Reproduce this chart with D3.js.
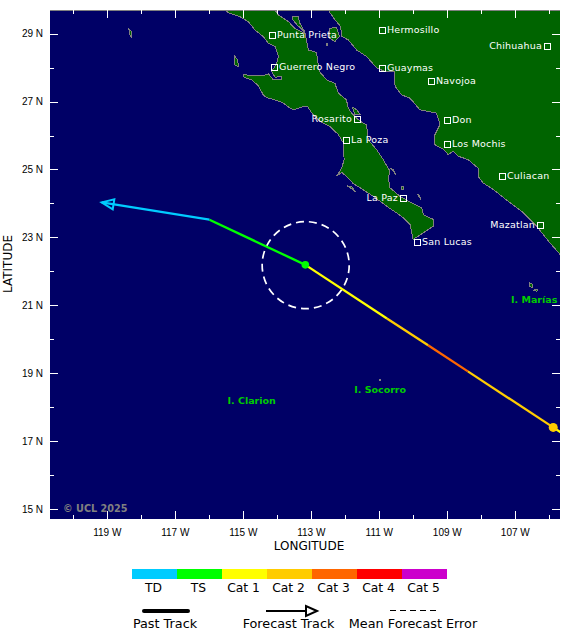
<!DOCTYPE html>
<html>
<head>
<meta charset="utf-8">
<script src="https://cdnjs.cloudflare.com/ajax/libs/d3/7.8.5/d3.min.js"></script>
<style>
  html, body { margin: 0; padding: 0; background: #fff; }
  svg { display: block; font-family: "DejaVu Sans", sans-serif; }
  .tick text { fill: #000; font-size: 10px; }
  .tick line { stroke: #fff; shape-rendering: crispEdges; }
  .domain { display: none; }
</style>
</head>
<body>
<div id="chart"></div>
<script>
// categories and colours
var categories = ["TD", "TS", "Cat 1", "Cat 2", "Cat 3", "Cat 4", "Cat 5"];
var catColors = ["#00ccff", "#00ff00", "#ffff00", "#ffcc00", "#ff6600", "#ff0000", "#cc00cc"];

// axis ticks
var lonTicks = [-119, -117, -115, -113, -111, -109, -107];
var lonMinor = [-120, -118, -116, -114, -112, -110, -108, -106];
var latTicks = [15, 17, 19, 21, 23, 25, 27, 29];
var latMinor = [16, 18, 20, 22, 24, 26, 28];

// storm track, each segment is [lon0, lat0, lon1, lat1, category index]
var forecastTrack = [
  [-113.16, 22.19, -115.98, 23.52, 1],
  [-115.98, 23.52, -119.15, 24.03, 0]
];
var pastTrack = [
  [-105.5, 17.16, -105.87, 17.4, 2],
  [-105.87, 17.4, -108.38, 19.05, 3],
  [-108.38, 19.05, -109.55, 19.82, 4],
  [-109.55, 19.82, -110.76, 20.61, 3],
  [-110.76, 20.61, -113.16, 22.19, 2]
];
var markers = [[-113.16, 22.19, 1], [-105.87, 17.4, 3]];
var errorCentre = [-113.15, 22.18];
var errorRadiusDeg = 1.28;

// coast, lon/lat
var baja = [[-115.55,29.70],[-115.38,29.60],[-115.08,29.50],[-114.84,29.36],[-114.64,29.11],[-114.40,28.92],[-114.25,28.72],[-114.05,28.62],[-113.95,28.33],[-114.00,28.13],[-114.15,27.89],[-114.05,27.72],[-113.86,27.74],[-113.86,27.64],[-114.10,27.64],[-114.25,27.82],[-114.40,27.76],[-114.69,27.76],[-114.98,27.80],[-114.96,27.72],[-114.74,27.64],[-114.54,27.47],[-114.40,27.20],[-114.30,27.12],[-114.05,27.05],[-113.81,26.96],[-113.61,26.81],[-113.51,26.76],[-113.27,26.84],[-113.10,26.86],[-112.93,26.61],[-112.73,26.42],[-112.44,26.27],[-112.19,26.03],[-112.04,25.78],[-112.02,25.29],[-112.09,25.04],[-112.24,24.80],[-112.09,24.92],[-111.85,24.70],[-111.75,24.58],[-111.55,24.46],[-111.16,24.21],[-110.77,23.92],[-110.33,23.62],[-110.08,23.38],[-109.99,22.94],[-109.69,23.13],[-109.40,23.33],[-109.40,23.53],[-109.69,23.67],[-109.74,23.87],[-110.04,24.02],[-110.38,24.21],[-110.67,24.46],[-110.72,24.75],[-110.67,24.95],[-110.87,25.29],[-111.06,25.58],[-111.31,25.88],[-111.36,26.32],[-111.55,26.42],[-111.80,26.66],[-111.90,26.81],[-111.95,27.05],[-112.19,27.25],[-112.29,27.54],[-112.53,27.64],[-112.75,27.89],[-112.83,28.45],[-113.07,28.52],[-113.17,29.01],[-113.47,29.16],[-113.66,29.36],[-113.95,29.55],[-114.05,29.70]];
var mainland = [[-112.49,29.70],[-112.29,29.41],[-112.12,29.21],[-112.09,28.92],[-111.90,28.82],[-111.65,28.52],[-111.36,28.33],[-111.06,27.99],[-110.82,27.89],[-110.55,27.89],[-110.52,27.45],[-110.33,27.20],[-110.08,27.10],[-109.79,26.76],[-109.30,26.66],[-109.20,26.32],[-109.35,26.02],[-109.35,25.73],[-109.10,25.60],[-108.96,25.44],[-108.81,25.54],[-108.66,25.39],[-108.37,25.29],[-108.08,25.04],[-108.08,24.80],[-107.93,24.60],[-107.63,24.41],[-107.14,24.02],[-106.80,23.77],[-106.36,23.33],[-106.01,22.89],[-105.67,22.50],[-105.67,29.70]];
var islands = [
  [[-113.53,29.50],[-113.37,29.50],[-113.32,29.31],[-113.17,29.04],[-113.40,29.26],[-113.53,29.41]],
  [[-112.44,29.16],[-112.24,29.19],[-112.16,28.92],[-112.29,28.77],[-112.44,28.87]],
  [[-115.23,28.33],[-115.15,28.23],[-115.13,28.03],[-115.23,28.08]],
  [[-118.35,29.14],[-118.26,29.05],[-118.26,28.88],[-118.33,28.97]],
  [[-110.67,25.04],[-110.57,24.99],[-110.50,24.85],[-110.59,24.97]],
  [[-111.93,24.52],[-111.80,24.49],[-111.67,24.33],[-111.80,24.43]],
  [[-110.32,24.49],[-110.26,24.49],[-110.26,24.41],[-110.32,24.41]],
  [[-109.87,24.28],[-109.79,24.21],[-109.76,24.11],[-109.82,24.21]],
  [[-106.58,21.67],[-106.49,21.62],[-106.49,21.52],[-106.56,21.55]],
  [[-106.46,21.44],[-106.32,21.47],[-106.35,21.41]],
  [[-110.98,18.81],[-110.94,18.81],[-110.94,18.77],[-110.98,18.77]],
  [[-111.78,26.84],[-111.65,26.76],[-111.54,26.61],[-111.70,26.61]],
  [[-112.53,28.72],[-112.52,28.72],[-112.52,28.66],[-112.53,28.66]]
];

// cities: name, lon, lat, side of the label
var cities = [
  ["Punta Prieta", -114.13, 28.97, "r"],
  ["Guerrero Negro", -114.07, 28.01, "r"],
  ["Hermosillo", -110.92, 29.11, "r"],
  ["Guaymas", -110.92, 27.98, "r"],
  ["Navojoa", -109.46, 27.60, "r"],
  ["Chihuahua", -106.04, 28.63, "l"],
  ["Don", -109.00, 26.46, "r"],
  ["Los Mochis", -108.98, 25.75, "r"],
  ["Rosarito", -111.63, 26.49, "l"],
  ["La Poza", -111.97, 25.87, "r"],
  ["Culiacan", -107.37, 24.81, "r"],
  ["La Paz", -110.28, 24.15, "l"],
  ["San Lucas", -109.87, 22.87, "r"],
  ["Mazatlan", -106.25, 23.37, "l"]
];
var islandLabels = [
  ["I. Clarion", -114.74, 18.08],
  ["I. Socorro", -110.96, 18.41],
  ["I. Marías", -106.43, 21.07]
];

var width = 580, height = 639;
var margin = { top: 10, right: 20, bottom: 120, left: 50 };
var plotW = width - margin.left - margin.right,
  plotH = height - margin.top - margin.bottom;

var svg = d3.select("#chart").append("svg").attr("width", width).attr("height", height);

var x = d3.scaleLinear().domain([-120.67, -105.67]).range([0, plotW]);
var y = d3.scaleLinear().domain([14.7, 29.7]).range([plotH, 0]);

svg.append("defs").append("clipPath").attr("id", "plot")
  .append("rect").attr("width", plotW).attr("height", plotH);

var g = svg.append("g").attr("transform", "translate(" + margin.left + "," + margin.top + ")");
var map = g.append("g").attr("clip-path", "url(#plot)");

map.append("rect").attr("width", plotW).attr("height", plotH).attr("fill", "#000066");

var coastPath = d3.line().x(function (d) { return x(d[0]); }).y(function (d) { return y(d[1]); })
  .curve(d3.curveLinearClosed);

map.selectAll(".land").data([baja, mainland].concat(islands)).enter().append("path")
  .attr("class", "land")
  .attr("d", coastPath)
  .attr("fill", "#006400")
  .attr("stroke", "#808080")
  .attr("stroke-width", 1)
  .attr("shape-rendering", "crispEdges");

// grey row along the top of the map
map.append("line").attr("x1", 0).attr("x2", plotW).attr("y1", 0.5).attr("y2", 0.5)
  .attr("stroke", "#808080").attr("shape-rendering", "crispEdges");

// mean forecast error circle
map.append("circle")
  .attr("cx", x(errorCentre[0])).attr("cy", y(errorCentre[1]))
  .attr("r", x(errorCentre[0] + errorRadiusDeg) - x(errorCentre[0]))
  .attr("fill", "none").attr("stroke", "#fff").attr("stroke-width", 1.7)
  .attr("stroke-dasharray", "8 5");

// track
map.selectAll(".seg").data(pastTrack.concat(forecastTrack)).enter().append("line")
  .attr("class", "seg")
  .attr("x1", function (d) { return x(d[0]); })
  .attr("y1", function (d) { return y(d[1]); })
  .attr("x2", function (d) { return x(d[2]); })
  .attr("y2", function (d) { return y(d[3]); })
  .attr("stroke", function (d) { return catColors[d[4]]; })
  .attr("stroke-width", 2.3);

// arrow head at the end of the forecast
var last = forecastTrack[forecastTrack.length - 1];
var ang = Math.atan2(y(last[3]) - y(last[1]), x(last[2]) - x(last[0]));
var tipX = x(last[2]), tipY = y(last[3]);
var headLen = 12, headW = 5;
var hx = tipX - headLen * Math.cos(ang), hy = tipY - headLen * Math.sin(ang);
map.append("path")
  .attr("d", "M" + tipX + "," + tipY +
    "L" + (hx - headW * Math.sin(ang)) + "," + (hy + headW * Math.cos(ang)) +
    "L" + (hx + headW * Math.sin(ang)) + "," + (hy - headW * Math.cos(ang)) + "Z")
  .attr("fill", "none").attr("stroke", catColors[last[4]]).attr("stroke-width", 2);

map.selectAll(".marker").data(markers).enter().append("circle")
  .attr("class", "marker")
  .attr("cx", function (d) { return x(d[0]); })
  .attr("cy", function (d) { return y(d[1]); })
  .attr("r", function (d, i) { return i === 0 ? 3.8 : 4.5; })
  .attr("fill", function (d) { return catColors[d[2]]; });

// cities
var city = map.selectAll(".city").data(cities).enter().append("g").attr("class", "city");
city.append("rect")
  .attr("x", function (d) { return Math.round(x(d[1])) - 3; })
  .attr("y", function (d) { return Math.round(y(d[2])) - 3; })
  .attr("width", 6).attr("height", 6)
  .attr("fill", "none").attr("stroke", "#fff").attr("shape-rendering", "crispEdges");
city.append("text")
  .attr("x", function (d) { return Math.round(x(d[1])) + (d[3] === "r" ? 5 : -5); })
  .attr("y", function (d) { return Math.round(y(d[2])) + 3; })
  .attr("text-anchor", function (d) { return d[3] === "r" ? "start" : "end"; })
  .attr("fill", "#fff").attr("font-size", 9.5).attr("letter-spacing", 0.2)
  .text(function (d) { return d[0]; });

map.selectAll(".isl").data(islandLabels).enter().append("text")
  .attr("class", "isl")
  .attr("x", function (d) { return x(d[1]); })
  .attr("y", function (d) { return y(d[2]); })
  .attr("text-anchor", "middle")
  .attr("fill", "#00cc00").attr("font-size", 9.5).attr("font-weight", "bold")
  .text(function (d) { return d[0]; });

map.append("text").attr("x", 13).attr("y", plotH - 7)
  .attr("fill", "#808080").attr("font-size", 9.7).attr("font-weight", "bold")
  .text("© UCL 2025");

// axes, ticks point inwards on all four sides
var lonFmt = function (d) { return Math.abs(d) + " W"; };
var latFmt = function (d) { return d + " N"; };
g.append("g").attr("transform", "translate(0," + plotH + ")")
  .call(d3.axisBottom(x).tickValues(lonTicks).tickSize(-8).tickPadding(10).tickFormat(lonFmt));
g.append("g").attr("transform", "translate(0," + plotH + ")")
  .call(d3.axisBottom(x).tickValues(lonMinor).tickSize(-4).tickFormat(""));
g.append("g").call(d3.axisTop(x).tickValues(lonTicks).tickSize(-8).tickFormat(""));
g.append("g").call(d3.axisTop(x).tickValues(lonMinor).tickSize(-4).tickFormat(""));
g.append("g").call(d3.axisLeft(y).tickValues(latTicks).tickSize(-8).tickPadding(7).tickFormat(latFmt));
g.append("g").call(d3.axisLeft(y).tickValues(latMinor).tickSize(-4).tickFormat(""));
g.append("g").attr("transform", "translate(" + plotW + ",0)")
  .call(d3.axisRight(y).tickValues(latTicks).tickSize(-8).tickFormat(""));
g.append("g").attr("transform", "translate(" + plotW + ",0)")
  .call(d3.axisRight(y).tickValues(latMinor).tickSize(-4).tickFormat(""));

svg.append("text").attr("x", 309).attr("y", 550).attr("text-anchor", "middle")
  .attr("font-size", 12).text("LONGITUDE");
svg.append("text").attr("transform", "translate(12,264) rotate(-90)").attr("text-anchor", "middle")
  .attr("font-size", 12).text("LATITUDE");

// colour legend
var legendX = d3.scaleBand().domain(categories).range([132, 447]);
svg.selectAll(".swatch").data(categories).enter().append("rect")
  .attr("class", "swatch")
  .attr("x", function (d) { return legendX(d); })
  .attr("y", 569).attr("width", legendX.bandwidth()).attr("height", 10)
  .attr("fill", function (d, i) { return catColors[i]; });
svg.selectAll(".swatchLabel").data(categories).enter().append("text")
  .attr("class", "swatchLabel")
  .attr("x", function (d) { return legendX(d) + legendX.bandwidth() / 2 - 1; })
  .attr("y", 592).attr("text-anchor", "middle").attr("font-size", 12.3)
  .text(function (d) { return d; });

// line style legend
svg.append("line").attr("x1", 144).attr("x2", 188).attr("y1", 611).attr("y2", 611)
  .attr("stroke", "#000").attr("stroke-width", 4).attr("stroke-linecap", "round");
svg.append("line").attr("x1", 266).attr("x2", 306).attr("y1", 611).attr("y2", 611)
  .attr("stroke", "#000").attr("stroke-width", 1.8);
svg.append("path").attr("d", "M317,611L306,606L306,616Z")
  .attr("fill", "none").attr("stroke", "#000").attr("stroke-width", 2);
svg.append("line").attr("x1", 390).attr("x2", 436).attr("y1", 610.5).attr("y2", 610.5)
  .attr("stroke", "#000").attr("stroke-width", 1).attr("stroke-dasharray", "6 4")
  .attr("shape-rendering", "crispEdges");

svg.selectAll(".lineLabel")
  .data([["Past Track", 165], ["Forecast Track", 288.5], ["Mean Forecast Error", 413]])
  .enter().append("text")
  .attr("class", "lineLabel")
  .attr("x", function (d) { return d[1]; })
  .attr("y", 628).attr("text-anchor", "middle").attr("font-size", 12.8)
  .text(function (d) { return d[0]; });
</script>
</body>
</html>
